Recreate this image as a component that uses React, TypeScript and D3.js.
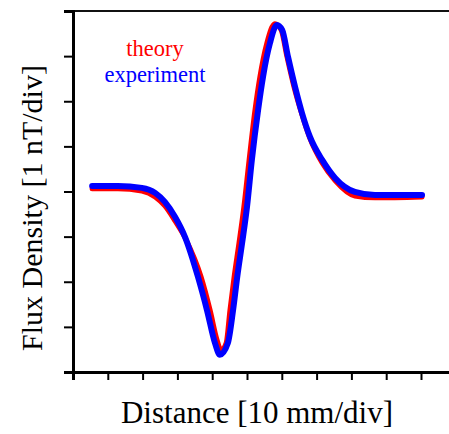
import React, { useEffect, useRef } from 'react';
import * as d3 from 'd3';

// distance in divisions (10 mm/div), flux in divisions (1 nT/div)
const theoryX = [0.55, 1.29, 1.98, 2.36, 2.64, 2.93, 3.25, 3.68, 3.94, 4.14, 4.25, 4.4, 4.51, 4.63, 4.77, 4.91, 5.06, 5.23, 5.37, 5.57, 5.8, 5.98, 6.15, 6.35, 6.58, 6.81, 7.16, 7.53, 8.1, 8.68, 10.03];
const theoryY = [4.06, 4.06, 4.01, 3.88, 3.68, 3.35, 2.93, 2.11, 1.37, 0.71, 0.49, 0.64, 1.37, 2.11, 2.86, 3.66, 4.7, 5.81, 6.54, 7.29, 7.72, 7.58, 6.98, 6.32, 5.7, 5.17, 4.63, 4.24, 3.9, 3.86, 3.88];

const expX = [0.55, 1.29, 1.98, 2.36, 2.64, 2.93, 3.22, 3.59, 3.85, 4.08, 4.22, 4.45, 4.6, 4.72, 4.86, 5.0, 5.14, 5.32, 5.46, 5.66, 5.86, 6.01, 6.18, 6.38, 6.58, 6.81, 7.16, 7.53, 8.1, 8.68, 10.03];
const expY = [4.12, 4.12, 4.08, 3.97, 3.77, 3.44, 2.99, 2.11, 1.37, 0.64, 0.38, 0.64, 1.37, 2.11, 2.86, 3.66, 4.7, 5.81, 6.54, 7.29, 7.69, 7.58, 6.98, 6.32, 5.74, 5.21, 4.7, 4.3, 3.99, 3.92, 3.92];

const xTicks = d3.range(0, 12);
const yTicks = d3.range(0, 9);

const serif = "'Liberation Serif', 'Times New Roman', Times, 'DejaVu Serif', serif";

const App = () => {
  const ref = useRef<SVGSVGElement>(null);

  useEffect(() => {
    const width = 449;
    const height = 434;
    const left = 73, top = 11, bottom = 372;
    const divX = 34.8;

    const svg = d3.select(ref.current);
    svg.selectAll('*').remove();
    svg.attr('width', width).attr('height', height);

    const x = d3.scaleLinear().domain([0, 11]).range([left, left + 11 * divX]);
    const y = d3.scaleLinear().domain([0, 8]).range([bottom, top]);

    // top frame line
    svg.append('line')
      .attr('x1', left).attr('x2', x(11) + 5)
      .attr('y1', top).attr('y2', top)
      .attr('stroke', '#111').attr('stroke-width', 2);

    const yAxis = svg.append('g')
      .attr('transform', `translate(${left},0)`)
      .call(d3.axisLeft(y).tickValues(yTicks).tickSize(9).tickFormat(() => ''));
    yAxis.select('.domain').attr('stroke', '#000').attr('stroke-width', 3);
    yAxis.selectAll('.tick line').attr('stroke', '#000').attr('stroke-width', 2);

    const xAxis = svg.append('g')
      .attr('transform', `translate(0,${bottom})`)
      .call(d3.axisBottom(x).tickValues(xTicks).tickSize(8).tickFormat(() => ''));
    xAxis.select('.domain').attr('stroke', '#000').attr('stroke-width', 3);
    xAxis.selectAll('.tick line').attr('stroke', '#000').attr('stroke-width', 2);

    const line = d3.line().curve(d3.curveMonotoneX);

    const draw = (xs: number[], ys: number[], color: string, w: number) => {
      const pts = xs.map((v, i) => [x(v), y(ys[i])] as [number, number]);
      svg.append('path')
        .attr('d', line(pts))
        .attr('fill', 'none')
        .attr('stroke', color)
        .attr('stroke-width', w)
        .attr('stroke-linecap', 'round')
        .attr('stroke-linejoin', 'round');
    };
    draw(theoryX, theoryY, '#ff0000', 5);
    draw(expX, expY, '#0000ff', 6);

    // legend
    svg.append('text')
      .attr('x', 155).attr('y', 56)
      .attr('text-anchor', 'middle')
      .style('font-family', serif)
      .style('font-size', '22.5px')
      .attr('fill', '#ff0000')
      .text('theory');
    svg.append('text')
      .attr('x', 155).attr('y', 82)
      .attr('text-anchor', 'middle')
      .style('font-family', serif)
      .style('font-size', '22.5px')
      .attr('fill', '#0000ff')
      .text('experiment');

    // axis titles
    svg.append('text')
      .attr('x', 257).attr('y', 423)
      .attr('text-anchor', 'middle')
      .style('font-family', serif)
      .style('font-size', '31px')
      .attr('fill', '#000')
      .text('Distance [10 mm/div]');
    svg.append('text')
      .attr('transform', 'translate(42,208) rotate(-90)')
      .attr('text-anchor', 'middle')
      .style('font-family', serif)
      .style('font-size', '30px')
      .attr('fill', '#000')
      .text('Flux Density [1 nT/div]');

    return () => {
      d3.select(ref.current).selectAll('*').remove();
    };
  }, []);

  return <svg ref={ref} style={{ position: 'absolute', left: 0, top: 0, display: 'block' }}></svg>;
};

export default App;
